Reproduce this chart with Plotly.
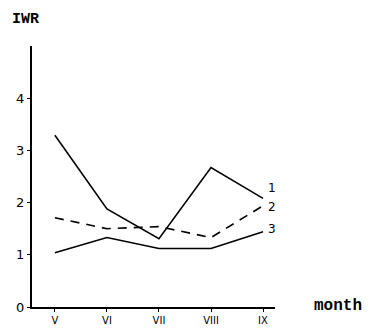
import plotly.graph_objects as go

months = ["V", "VI", "VII", "VIII", "IX"]
series_1 = [3.29, 1.88, 1.31, 2.67, 2.08]
series_2 = [1.71, 1.50, 1.54, 1.33, 1.94]
series_3 = [1.04, 1.33, 1.12, 1.12, 1.44]
series_names = ["1", "2", "3"]
y_ticks = [0, 1, 2, 3, 4]

x_idx = list(range(len(months)))

fig = go.Figure()
fig.add_trace(go.Scatter(x=x_idx, y=series_1, mode="lines",
                         line=dict(color="black", width=1.6), name=series_names[0]))
fig.add_trace(go.Scatter(x=x_idx, y=series_2, mode="lines",
                         line=dict(color="black", width=1.6, dash="9px,7px"), name=series_names[1]))
fig.add_trace(go.Scatter(x=x_idx, y=series_3, mode="lines",
                         line=dict(color="black", width=1.6), name=series_names[2]))

label_y = [2.28, 1.92, 1.50]
for name, yv in zip(series_names, label_y):
    fig.add_annotation(x=x_idx[-1], y=yv, xref="x", yref="y", text=name,
                       showarrow=False, xanchor="left", xshift=3,
                       font=dict(family="DejaVu Sans", size=12, color="black"))

# page body has an 8px margin; plot area in window: x 32..275 px, y 46..307 px
fig.add_annotation(x=(10 - 32) / 243, y=(307 - 19) / 261, xref="paper", yref="paper",
                   text="<b>IWR</b>", showarrow=False, xanchor="left", yanchor="middle",
                   font=dict(family="Liberation Mono", size=15, color="black"))
fig.add_annotation(x=(312 - 32) / 243, y=(307 - 306) / 261, xref="paper", yref="paper",
                   text="<b>month</b>", showarrow=False, xanchor="left", yanchor="middle",
                   font=dict(family="Liberation Mono", size=16, color="black"))

fig.update_layout(
    width=371, height=320,
    margin=dict(l=24, r=104, t=38, b=21, autoexpand=False),
    paper_bgcolor="white", plot_bgcolor="white",
    showlegend=False,
    xaxis=dict(range=[-0.44, 4.23], tickvals=x_idx, ticktext=months,
               automargin=False,
               showgrid=False, zeroline=False, showline=True, linecolor="black",
               linewidth=2, ticks="outside", ticklen=3, tickcolor="black",
               tickfont=dict(family="DejaVu Sans", size=10, color="black")),
    yaxis=dict(range=[0, 5], tickvals=y_ticks, ticktext=[str(v) for v in y_ticks],
               automargin=False,
               showgrid=False, zeroline=False, showline=True, linecolor="black",
               linewidth=2, ticks="outside", ticklen=3, tickcolor="black",
               tickfont=dict(family="DejaVu Sans", size=13, color="black")),
)
fig.update_xaxes(tickprefix="<b>", ticksuffix="</b>")
fig.update_yaxes(tickprefix="<i>", ticksuffix="</i>")

fig.write_html("out.html")
